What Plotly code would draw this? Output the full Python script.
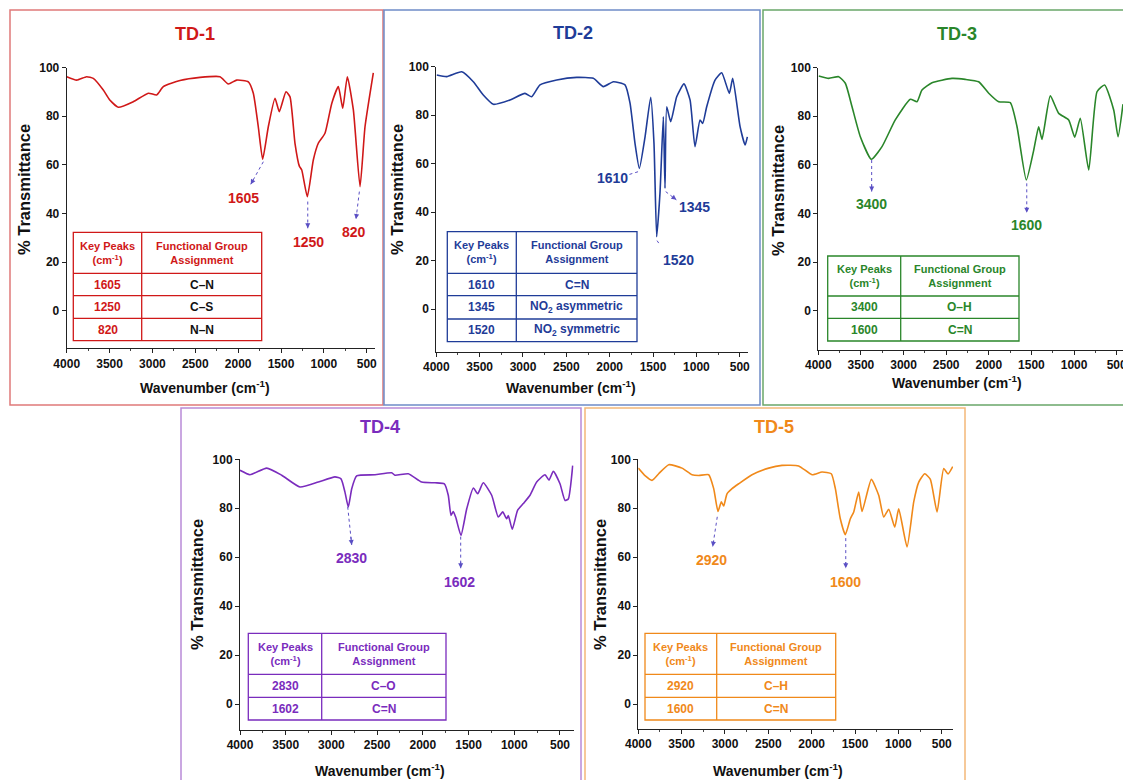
import plotly.graph_objects as go

W, H = 1123, 780
FONT = "Liberation Sans, Arial, sans-serif"

# ---------------- data ----------------
names = ["TD-1", "TD-2", "TD-3", "TD-4", "TD-5"]
line_colors = ["#d01818", "#1f3c98", "#2a862a", "#7a2cbd", "#f0891a"]
box_colors = ["#e07a7a", "#6f8cc8", "#6aa66a", "#b98ad8", "#f3b878"]
assign_colors = ["#111111", "#1f3c98", "#2a862a", "#7a2cbd", "#f0891a"]

td1_wn = [4000, 3883, 3767, 3690, 3573, 3500, 3398, 3223, 3048, 2950, 2873, 2678, 2445, 2212, 2115, 2017,
          1881, 1823, 1765, 1714, 1648, 1570, 1520, 1442, 1395, 1337, 1286, 1258, 1193, 1123, 1065, 987,
          908, 831, 780, 726, 656, 578, 520, 423]
td1_t = [96.3, 94.9, 96.3, 95.6, 90.8, 86.8, 83.7, 86.0, 89.5, 88.8, 92.2, 94.7, 96.0, 96.3, 93.3, 94.9,
         94.2, 89.5, 75.7, 62.3, 75.7, 87.4, 81.9, 90.1, 88.0, 68.9, 59.5, 57.9, 46.9, 62.0, 68.9, 73.0,
         85.3, 92.2, 83.3, 96.3, 82.6, 51.0, 75.7, 97.9]

td2_wn = [3995, 3880, 3707, 3573, 3458, 3342, 3150, 2977, 2900, 2804, 2611, 2380, 2189, 2073, 1958, 1823,
          1765, 1708, 1658, 1592, 1527, 1489, 1458, 1420, 1381, 1362, 1342, 1296, 1227, 1143, 1073, 1016,
          958, 927, 881, 785, 708, 620, 581, 496, 438, 412]
td2_t = [96.6, 95.9, 97.9, 93.8, 88.3, 84.5, 86.3, 89.0, 87.6, 92.5, 94.5, 95.6, 95.2, 91.8, 93.8, 92.5,
         84.9, 68.4, 58.1, 71.1, 87.4, 68.4, 29.9, 47.8, 79.4, 49.9, 83.5, 77.3, 87.6, 92.9, 86.3, 67.0,
         78.0, 76.6, 83.5, 94.5, 97.5, 89.0, 95.2, 75.3, 67.7, 71.1]

td3_wn = [3995, 3878, 3761, 3683, 3605, 3507, 3378, 3253, 3097, 2921, 2842, 2784, 2666, 2432, 2276, 2119,
          2001, 1884, 1748, 1669, 1560, 1473, 1415, 1376, 1279, 1180, 1063, 992, 927, 828, 731, 641,
          535, 484, 426]
td3_t = [96.6, 95.6, 96.3, 93.6, 84.0, 71.6, 62.3, 67.5, 78.5, 87.0, 86.0, 90.8, 93.8, 95.6, 95.2, 94.2,
         89.5, 86.0, 85.6, 75.7, 53.8, 66.1, 75.7, 70.5, 88.4, 81.2, 78.5, 71.4, 79.2, 57.9, 90.1, 92.9,
         82.6, 71.6, 85.0]

td4_wn = [4000, 3891, 3708, 3544, 3344, 3143, 2961, 2895, 2852, 2815, 2778, 2724, 2523, 2341, 2305, 2159,
          2013, 1867, 1765, 1722, 1692, 1667, 1641, 1583, 1520, 1448, 1400, 1339, 1247, 1175, 1127, 1083,
          1065, 1022, 963, 901, 828, 755, 664, 620, 573, 500, 445, 409, 361]
td4_t = [95.5, 93.7, 96.4, 93.5, 88.7, 90.7, 92.8, 92.0, 86.6, 80.5, 88.0, 93.2, 93.7, 94.5, 93.5, 94.1,
         90.7, 90.4, 90.0, 85.3, 77.1, 78.7, 76.4, 68.9, 79.8, 88.3, 85.9, 90.4, 85.3, 76.4, 78.5, 75.7,
         77.0, 71.4, 79.2, 81.9, 85.3, 90.7, 93.7, 91.5, 95.1, 90.0, 83.2, 83.8, 97.4]

td5_wn = [4000, 3919, 3842, 3765, 3649, 3496, 3381, 3303, 3188, 3130, 3081, 3042, 3015, 2977, 2919, 2842,
          2688, 2496, 2342, 2150, 1996, 1881, 1774, 1727, 1670, 1612, 1554, 1515, 1458, 1419, 1312, 1227,
          1169, 1111, 1042, 996, 900, 823, 765, 696, 631, 554, 477, 427, 373]
td5_t = [96.4, 93.2, 91.4, 94.1, 97.8, 96.4, 93.7, 93.4, 93.7, 88.0, 78.7, 82.6, 80.9, 85.9, 88.0, 90.0,
         93.7, 96.4, 97.5, 97.3, 93.7, 94.8, 94.1, 88.0, 75.7, 69.2, 75.7, 78.5, 86.6, 78.7, 91.8, 85.3,
         76.4, 79.6, 72.3, 79.8, 64.2, 82.6, 90.7, 94.1, 91.8, 78.5, 96.2, 94.0, 97.0]

spectra_wn = [td1_wn, td2_wn, td3_wn, td4_wn, td5_wn]
spectra_t = [td1_t, td2_t, td3_t, td4_t, td5_t]

peak_labels = [["1605", "1250", "820"], ["1610", "1345", "1520"], ["3400", "1600"],
               ["2830", "1602"], ["2920", "1600"]]
table_peaks = [["1605", "1250", "820"], ["1610", "1345", "1520"], ["3400", "1600"],
               ["2830", "1602"], ["2920", "1600"]]
table_groups = [["C\u2013N", "C\u2013S", "N\u2013N"],
                ["C=N", "NO<sub>2</sub> asymmetric", "NO<sub>2</sub> symmetric"],
                ["O\u2013H", "C=N"], ["C\u2013O", "C=N"], ["C\u2013H", "C=N"]]
x_ticks = [4000, 3500, 3000, 2500, 2000, 1500, 1000, 500]
y_ticks = [0, 20, 40, 60, 80, 100]

# ---------------- layout geometry (pixels) ----------------
plot_px = [(66.7, 375.3, 67.7, 348.3), (436.3, 748.4, 66.7, 351.7), (818.3, 1123, 67.7, 350),
           (240, 573.7, 459.3, 730), (638.3, 953, 459.3, 729)]
x_ranges = [[4000, 400], [4000, 400], [4000, 426], [4000, 350], [4000, 370]]
y_ranges = [[-15.5, 100], [-17.5, 100], [-16.2, 100], [-10.6, 100], [-10.2, 100]]
boxes = [(10, 383, 10, 405), (384, 760, 10, 405), (763, 1126, 10, 405),
         (181, 581, 408, 783), (585, 965, 408, 783)]
title_pos = [(195, 34), (573, 33), (957, 34), (380, 427), (774, 427)]
ytitle_pos = [(24, 190), (397, 190), (778, 190), (197, 585), (600, 585)]
xtitle_pos = [(205, 387), (571, 387), (957, 382), (380, 770), (778, 770)]
# arrows in data coords: (tail wn, tail T, head wn, head T, text wn, text T)
arrows = [
    [(1706, 61.3, 1853, 52.0, 1940, 46.3), (1188, 44.9, 1188, 33.9, 1181, 28.4), (586, 49.0, 625, 37.7, 648, 32.3)],
    [(1673, 56.7, 1789, 55.4, 1962, 54.0), (1354, 48.5, 1231, 45.1, 1019, 42.3), (1454, 28.3, 1419, 26.5, 1212, 20.3)],
    [(3374, 62.0, 3374, 49.0, 3374, 43.9), (1555, 52.4, 1555, 40.3, 1555, 35.3)],
    [(2822, 80.6, 2778, 65.0, 2778, 59.5), (1586, 68.4, 1586, 55.5, 1594, 50.0)],
    [(3089, 76.5, 3142, 64.3, 3161, 58.8), (1607, 67.8, 1607, 55.5, 1607, 50.0)],
]
tables = [
    (73.3, 141.7, 261.7, 232.3, 273.3, [295.7, 318.3], 340.7),
    (447.3, 516.3, 637.0, 231.7, 273.3, [295.7, 319.0], 341.7),
    (827.7, 900.7, 1019.0, 256.0, 296.0, [318.3], 341.0),
    (248.3, 321.7, 446.0, 633.3, 674.3, [697.3], 720.0),
    (645.0, 716.7, 835.7, 633.3, 674.3, [697.3], 720.0),
]
ARROW_COL = "#5a4fc4"


def px(x):
    return x / W


def py(y):
    return 1 - y / H


fig = go.Figure()
shapes = []
annotations = []

for i in range(5):
    n = "" if i == 0 else str(i + 1)
    col = line_colors[i]
    l, r, t, b = plot_px[i]
    fig.add_trace(go.Scatter(x=spectra_wn[i], y=spectra_t[i], mode="lines",
                             line=dict(color=col, width=1.6, shape="spline", smoothing=0.5),
                             xaxis="x" + n, yaxis="y" + n, showlegend=False, hoverinfo="skip"))
    axcommon = dict(showgrid=False, zeroline=False, showline=True, linecolor="#222", linewidth=1,
                    ticks="outside", ticklen=4, tickcolor="#222", automargin=False,
                    ticklabeloverflow="allow",
                    tickfont=dict(family=FONT, size=12, color="#111", weight="bold"))
    fig.update_layout(**{
        "xaxis" + n: dict(domain=[px(l), px(r)], range=x_ranges[i], anchor="y" + n,
                          tickvals=x_ticks, minor=dict(ticks="outside", ticklen=2, dtick=250, tickcolor="#444"),
                          **axcommon),
        "yaxis" + n: dict(domain=[py(b), py(t)], range=y_ranges[i], anchor="x" + n,
                          tickvals=y_ticks, **axcommon),
    })
    bl, br, bt, bb = boxes[i]
    shapes.append(dict(type="rect", xref="paper", yref="paper", x0=px(bl), x1=px(br), y0=py(bb), y1=py(bt),
                       line=dict(color=box_colors[i], width=1.5), layer="below"))
    tx, ty = title_pos[i]
    annotations.append(dict(xref="paper", yref="paper", x=px(tx), y=py(ty), text="<b>%s</b>" % names[i],
                            showarrow=False, font=dict(family=FONT, size=18, color=col),
                            xanchor="center", yanchor="middle"))
    yx, yy = ytitle_pos[i]
    annotations.append(dict(xref="paper", yref="paper", x=px(yx), y=py(yy), text="<b>% Transmittance</b>",
                            textangle=-90, showarrow=False, font=dict(family=FONT, size=16.5, color="#111"),
                            xanchor="center", yanchor="middle"))
    xx, xy = xtitle_pos[i]
    annotations.append(dict(xref="paper", yref="paper", x=px(xx), y=py(xy),
                            text="<b>Wavenumber (cm<sup>-1</sup>)</b>", showarrow=False,
                            font=dict(family=FONT, size=14, color="#111"), xanchor="center", yanchor="middle"))
    for lab, (tw, tt, hw, ht, xw, xt) in zip(peak_labels[i], arrows[i]):
        shapes.append(dict(type="line", xref="x" + n, yref="y" + n, x0=tw, y0=tt, x1=hw, y1=ht,
                           line=dict(color=ARROW_COL, width=1, dash="dot")))
        sw = hw + (tw - hw) * 0.25
        st = ht + (tt - ht) * 0.25
        annotations.append(dict(xref="x" + n, yref="y" + n, axref="x" + n, ayref="y" + n,
                                x=hw, y=ht, ax=sw, ay=st, text="", showarrow=True,
                                arrowhead=2, arrowsize=1, arrowwidth=1, arrowcolor=ARROW_COL, standoff=0))
        annotations.append(dict(xref="x" + n, yref="y" + n, x=xw, y=xt, text="<b>%s</b>" % lab,
                                showarrow=False, font=dict(family=FONT, size=14, color=col),
                                xanchor="center", yanchor="middle"))
    tl, td, tr, tt0, th, rows, tb = tables[i]
    lc = col
    shapes.append(dict(type="rect", xref="paper", yref="paper", x0=px(tl), x1=px(tr), y0=py(tb), y1=py(tt0),
                       line=dict(color=lc, width=1.3), fillcolor="white"))
    shapes.append(dict(type="line", xref="paper", yref="paper", x0=px(td), x1=px(td), y0=py(tb), y1=py(tt0),
                       line=dict(color=lc, width=1.3)))
    for yline in [th] + rows:
        shapes.append(dict(type="line", xref="paper", yref="paper", x0=px(tl), x1=px(tr), y0=py(yline),
                           y1=py(yline), line=dict(color=lc, width=1.3)))
    hc = (tt0 + th) / 2
    annotations.append(dict(xref="paper", yref="paper", x=px((tl + td) / 2), y=py(hc),
                            text="<b>Key Peaks</b><br><b>(cm<sup>-1</sup>)</b>", showarrow=False,
                            font=dict(family=FONT, size=11, color=col), xanchor="center", yanchor="middle"))
    annotations.append(dict(xref="paper", yref="paper", x=px((td + tr) / 2), y=py(hc),
                            text="<b>Functional Group</b><br><b>Assignment</b>", showarrow=False,
                            font=dict(family=FONT, size=11, color=col), xanchor="center", yanchor="middle"))
    edges = [th] + rows + [tb]
    for k, (pk, grp) in enumerate(zip(table_peaks[i], table_groups[i])):
        rc = (edges[k] + edges[k + 1]) / 2
        annotations.append(dict(xref="paper", yref="paper", x=px((tl + td) / 2), y=py(rc),
                                text="<b>%s</b>" % pk, showarrow=False,
                                font=dict(family=FONT, size=12, color=col), xanchor="center", yanchor="middle"))
        annotations.append(dict(xref="paper", yref="paper", x=px((td + tr) / 2), y=py(rc),
                                text="<b>%s</b>" % grp, showarrow=False,
                                font=dict(family=FONT, size=12, color=assign_colors[i]),
                                xanchor="center", yanchor="middle"))

fig.update_layout(width=W, height=H, margin=dict(l=0, r=0, t=0, b=0, pad=0), autosize=False,
                  paper_bgcolor="white", plot_bgcolor="rgba(0,0,0,0)",
                  shapes=shapes, annotations=annotations, showlegend=False,
                  font=dict(family=FONT))

fig.write_html("out.html", config={"displayModeBar": False},
               post_script="document.body.style.margin='0';document.body.style.overflow='hidden';")
